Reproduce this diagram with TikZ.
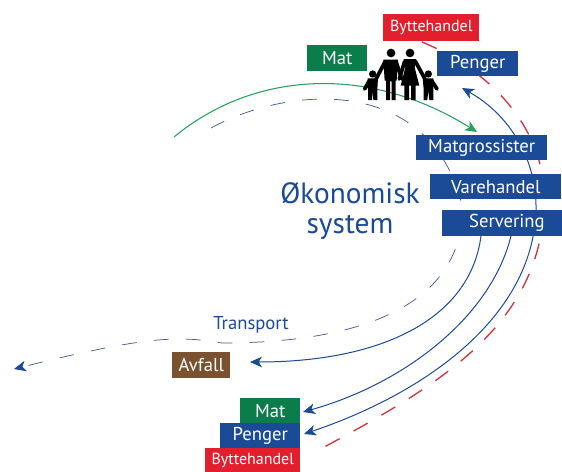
\documentclass[tikz,border=0pt]{standalone}
\usepackage{fontspec}
\setmainfont{PT Sans}
\usetikzlibrary{arrows.meta}
\definecolor{nblue}{HTML}{1B4A96}
\definecolor{ngreen}{HTML}{0B7D4B}
\definecolor{nred}{HTML}{E31E2D}
\definecolor{nbrown}{HTML}{7A5230}
\definecolor{ndash}{HTML}{3F5F8F}
\definecolor{nreddash}{HTML}{CE3540}
\definecolor{ngreenline}{HTML}{2AA05F}
\tikzset{
  box/.style={rectangle,inner sep=0pt,text=white,font=\fontsize{14}{16}\selectfont},
  smallbox/.style={box,font=\fontsize{12}{14}\selectfont},
  flow/.style={line width=0.75pt,color=nblue},
  tipb/.style={-{Stealth[length=9pt,width=8pt,inset=2.5pt]}},
  tipr/.style={{Stealth[length=9pt,width=8pt,inset=2.5pt]}-{Stealth[length=9pt,width=8pt,inset=2.5pt]}},
  transp/.style={line width=0.55pt,color=ndash,dash pattern=on 11pt off 13pt},
  barter/.style={line width=1pt,color=nreddash,dash pattern=on 12pt off 12pt},
  limb/.style={line width=2.8pt,line cap=round,black},
  person/.style={fill=black,draw=none},
}
\newcommand{\boxat}[8]{\node[#8,fill=#2,anchor=north west,minimum width=#5*0.75pt,minimum height=#6*0.75pt] (#1) at (#3,#4) {#7};}
\begin{document}
\begin{tikzpicture}[x=0.75pt,y=-0.75pt]
\useasboundingbox (0,0) rectangle (562,472);
% free ends
\coordinate (gs) at (174,137);
\coordinate (ge) at (477,132);
\coordinate (ts) at (211,128);
\coordinate (te) at (14,369);
\coordinate (pt) at (462,88);
\coordinate (pb) at (304,434);
\coordinate (mb) at (303,412);
\coordinate (ab) at (250,362);
\coordinate (ms) at (511,236);
\coordinate (as) at (481,236);
\coordinate (rs) at (422,42);
\coordinate (re) at (315,452);
% barter
\draw[barter] (rs) .. controls (490,70) and (548,130) .. (544,205) .. controls (540,330) and (430,390) .. (re);
% transport
\draw[transp,-{Stealth[length=9pt,width=8pt,inset=2.5pt,fill=nblue,color=nblue]}] (ts) .. controls (290,85) and (430,75) .. (462,205) .. controls (465,300) and (370,343) .. (222,343) .. controls (180,336) and (150,335) .. (te);
% flows
\draw[line width=0.8pt,color=ngreenline,tipb] (gs) .. controls (255,70) and (370,65) .. (ge);
\draw[flow,tipr] (pt) .. controls (510,115) and (537,160) .. (536,210) .. controls (533,320) and (420,395) .. (pb);
\draw[flow,tipb] (ms) .. controls (490,320) and (400,385) .. (mb);
\draw[flow,tipb] (as) .. controls (470,320) and (380,362) .. (ab);
% boxes
\boxat{bt}{nred}{383}{14}{96}{27}{Byttehandel}{smallbox}
\boxat{mt}{ngreen}{307}{45}{60}{26}{Mat}{box}
\boxat{pe}{nblue}{437}{51}{81}{25}{Penger}{box}
\boxat{mg}{nblue}{416}{135}{131}{25}{Matgrossister}{box}
\boxat{vh}{nblue}{430}{174}{131}{25}{Varehandel}{box}
\boxat{sv}{nblue}{442}{210}{120}{26}{\hspace*{7pt}Servering}{box}
\boxat{av}{nbrown}{172}{352}{58}{26}{Avfall}{box}
\boxat{bb}{nred}{205}{448}{95}{24}{Byttehandel}{smallbox}
\boxat{pp}{nblue}{220}{423}{80}{25}{Penger}{box}
\boxat{mm}{ngreen}{240}{398}{60}{25}{Mat}{box}
% texts
\node[text=nblue,font=\fontsize{22}{23}\selectfont,align=center,inner sep=0pt] (ok) at (350,211) {Økonomisk\\system};
\node[text=nblue,font=\fontsize{14}{16}\selectfont,inner sep=0pt] (tr) at (251,325) {Transport};
% family
\begin{scope}[shift={(360,44)},x=0.25pt,y=-0.25pt]
  % heads
  \fill[person] (93,27) circle (13) (150,27) circle (13) (38,90) circle (11) (205,90) circle (11);
  % man
  \fill[person] (70,47) -- (114,47) -- (110,110) -- (107,110) -- (107,168) -- (95,168) -- (95,112) -- (90,112) -- (90,168) -- (78,168) -- (78,110) -- (74,110) -- cycle;
  % woman
  \fill[person] (131,45) -- (169,45) -- (164,70) -- (178,125) -- (167,125) -- (167,168) -- (153,168) -- (153,125) -- (147,125) -- (147,168) -- (133,168) -- (133,125) -- (122,125) -- (136,70) -- cycle;
  % children
  \fill[person] (23,103) -- (54,103) -- (52,135) -- (52,168) -- (40,168) -- (38,140) -- (36,168) -- (24,168) -- (24,135) -- cycle;
  \fill[person] (188,103) -- (220,103) -- (220,135) -- (220,168) -- (208,168) -- (205,140) -- (202,168) -- (191,168) -- (191,135) -- cycle;
  % arms
  \draw[limb] (76,52) -- (48,105);
  \draw[limb] (108,52) -- (125,105);
  \draw[limb] (134,52) -- (118,105);
  \draw[limb] (166,52) -- (195,105);
  \draw[limb] (28,110) -- (14,135);
  \draw[limb] (215,110) -- (231,135);
\end{scope}
\end{tikzpicture}
\end{document}
